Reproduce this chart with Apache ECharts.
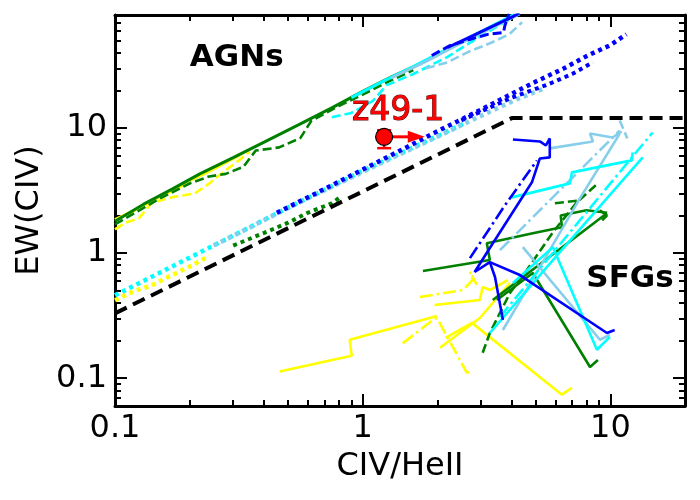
<!DOCTYPE html>
<html>
<head>
<meta charset="utf-8">
<script src="https://cdn.jsdelivr.net/npm/echarts@6/dist/echarts.min.js"></script>
<style>
  html, body { margin: 0; background: #fff; }
  #chart { width: 700px; height: 500px; }
</style>
</head>
<body>
<div id="chart"></div>
<script>
// axis ticks
const xMajor = [0.1, 1, 10];
const xMinor = [0.2, 0.3, 0.4, 0.5, 0.6, 0.7, 0.8, 0.9, 2, 3, 4, 5, 6, 7, 8, 9, 20];
const yMajor = [0.1, 1, 10];
const yMinor = [0.07, 0.08, 0.09, 0.2, 0.3, 0.4, 0.5, 0.6, 0.7, 0.8, 0.9,
  2, 3, 4, 5, 6, 7, 8, 9, 20, 30, 40, 50, 60, 70];

// AGN tracks, upper band
const agnYellowSolid = [[0.1,1.85],[0.12,2.2],[0.15,2.8],[0.18,3.3],[0.2,3.8],[0.24,4.5],[0.28,5.3],[0.32,6.1]];
const agnYellowDashed = [[0.1,1.55],[0.11,1.75],[0.125,1.9],[0.14,2.5],[0.17,2.8],[0.21,3.0],[0.24,3.6],[0.28,4.6],[0.32,5.6],[0.35,6.5]];
const agnGreenSolid = [[0.1,1.8],[0.13,2.45],[0.17,3.25],[0.22,4.3],[0.3,5.8],[0.4,7.7],[0.55,10.6],[0.75,14.5],[1.0,19.6],[1.3,25.5],[1.7,32.5]];
const agnGreenDashed = [[0.1,1.7],[0.15,2.7],[0.2,3.6],[0.24,4.1],[0.28,4.3],[0.33,4.9],[0.37,6.6],[0.46,7.0],[0.56,8.3],[0.62,11.4],[0.8,15],[1.0,18.5],[1.3,24],[1.6,29]];
const agnCyanSolid = [[0.9,17.5],[1.2,23.5],[1.6,31],[2.0,39],[2.6,51],[3.2,63],[4.1,81]];
const agnCyanDashed = [[0.75,12.2],[0.9,13.2],[1.1,16.5],[1.25,22],[1.6,27],[2.2,37],[2.8,50],[3.5,65],[4.3,82]];
const agnSkySolid = [[1.3,25],[1.8,34],[2.4,46],[3.0,57],[3.8,72],[4.3,82]];
const agnSkyDashed = [[1.8,30],[2.2,33.5],[2.7,41],[3.3,48],[3.9,56],[4.4,70]];
const agnBlueSolid = [[2.2,44],[2.8,55],[3.4,66],[4.0,77],[4.3,83]];
const agnBlueDashed = [[1.9,38],[2.25,45.5],[2.7,51],[3.2,56],[3.7,58],[3.75,66],[3.9,82]];

// AGN tracks, lower dotted band
const lowYellow = [[0.1,0.42],[0.12,0.5],[0.14,0.55],[0.16,0.63],[0.2,0.78],[0.24,0.95]];
const lowCyan = [[0.1,0.46],[0.15,0.69],[0.2,0.92],[0.3,1.38],[0.45,2.08],[0.7,3.2],[1.0,4.55],[1.5,6.6],[2.0,8.6],[2.6,11]];
const lowGreen = [[0.3,1.15],[0.4,1.45],[0.5,1.75],[0.6,2.1],[0.75,2.5],[0.82,2.85]];
const lowSky = [[0.25,1.15],[0.35,1.6],[0.5,2.3],[0.8,3.6],[1.2,5.3],[2.0,8.5],[3.0,12.5],[4.2,17],[5.5,21]];
const lowBlue = [[0.45,2.1],[0.7,3.25],[1.0,4.65],[1.5,7.0],[2.0,9.4],[3.0,14],[4.0,18.8],[5.0,23.5],[6.5,30],[8.0,37.5],[10,46],[11.6,56]];
const lowBlue2 = [[2.5,11.5],[4.0,17.5],[5.5,22],[7.0,27],[8.5,33.5]];

// AGN / SFG dividing line
const divider = [[0.1,0.33],[4,12],[20,12]];

// SFG tracks
const sfgBlueSolid = [[4.04,8.1],[5.19,7.81],[5.49,7.25],[5.69,8.25],[5.69,5.82],[5.19,5.71],[4.82,3.68],[3.26,1.1],[2.83,0.706],[3.26,0.848],[4.31,0.668],[9.68,0.23],[10.4,0.243]];
const sfgBlueSolid2 = [[3.26,0.848],[3.42,0.644],[3.68,0.292]];
const sfgBlueDashDot = [[2.71,0.912],[3.75,2.41],[5.05,5.51]];
const sfgSkySolid = [[5.69,6.87],[8.5,7.81],[8.27,9.04],[10.2,8.4],[11.1,9.38]];
const sfgSkySolid2 = [[3.68,0.243],[5.19,0.774],[7.53,2.74],[10.9,9.0]];
const sfgSkySolid3 = [[4.43,1.116],[9.07,0.203],[9.95,0.222]];
const sfgSkyDashDot = [[3.58,1.056],[6.25,3.18],[10.9,9.55]];
const sfgSkyDashed = [[10.9,11.5],[11.7,8.25]];
const sfgCyanSolid = [[4.0,2.79],[6.86,3.61],[6.99,4.42],[12.2,5.51],[12.3,6.38]];
const sfgCyanSolid2 = [[3.26,0.23],[6.25,1.02],[13.5,5.82]];
const sfgCyanSolid3 = [[4.04,0.577],[5.86,1.116],[8.82,0.169],[9.95,0.214]];
const sfgCyanDashDot = [[3.58,0.309],[7.19,1.64],[14.8,9.21]];
const sfgGreenSolid = [[1.75,0.72],[3.26,0.88],[3.17,1.2],[4.86,1.44],[6.37,1.61],[6.3,2.0],[8.0,2.2],[9.7,2.1]];
const sfgGreenSolid2 = [[3.35,0.422],[9.68,2.08]];
const sfgGreenArrow = [[9.07,2.2],[9.68,2.0],[9.25,1.83]];
const sfgGreenSolid3 = [[3.48,0.422],[4.86,0.693],[8.27,0.123],[8.9,0.14]];
const sfgGreenDashed = [[3.05,0.16],[3.26,0.23],[3.93,0.48],[4.6,0.732],[5.86,1.47],[7.32,2.55],[8.9,3.61]];
const sfgGreenDashed2 = [[5.97,2.5],[7.53,2.64]];
const sfgYellowSolid = [[0.462,0.113],[0.903,0.151],[0.886,0.203],[1.865,0.303],[1.99,0.315]];
const sfgYellowSolid2 = [[2.05,0.175],[2.97,0.303],[3.93,0.577]];
const sfgYellowSolid3 = [[2.16,0.21],[2.76,0.277],[6.37,0.0739],[6.99,0.084]];
const sfgYellowSolid4 = [[1.95,0.385],[2.97,0.422],[3.05,0.536],[3.26,0.507],[3.85,0.609]];
const sfgYellowDashDot = [[1.7,0.446],[2.54,0.507],[2.78,0.61],[2.71,0.71],[2.89,0.556]];
const sfgYellowDashDot2 = [[1.45,0.19],[1.95,0.3],[2.0,0.3],[2.63,0.111],[2.78,0.112]];

// the observed source: [x, y, yLow, yHigh, x lower-limit arrow end]
const z49 = [[1.22, 8.5, 6.9, 9.6, 1.78]];

// region labels
const regionLabels = [['AGNs', 0.31, 36.5], ['SFGs', 12, 0.62]];
const z49Label = [['z49-1', 1.39, 13.5]];

const C = { y: '#ffff00', g: '#008000', c: '#00ffff', s: '#87ceeb', b: '#0000ff' };
const DASH = [9, 4];
const DASHDOT = [13, 4, 2.5, 4];
const DOT = [4, 4];

function track(data, color, type, width) {
  return {
    type: 'line', data, symbol: 'none', silent: true,
    lineStyle: { color, width: width || 2.6, type: type || 'solid', cap: 'butt' }
  };
}

const lines = [
  track(lowYellow, C.y, DOT, 4.5), track(lowCyan, C.c, DOT, 4.5), track(lowGreen, C.g, DOT, 4),
  track(lowSky, C.s, DOT, 4.5), track(lowBlue2, C.b, DOT, 4), track(lowBlue, C.b, DOT, 4.5),
  track(agnYellowDashed, C.y, DASH), track(agnYellowSolid, C.y, 'solid', 3),
  track(agnGreenDashed, C.g, DASH), track(agnGreenSolid, C.g, 'solid', 3),
  track(agnCyanDashed, C.c, DASH), track(agnCyanSolid, C.c, 'solid', 3),
  track(agnSkyDashed, C.s, DASH), track(agnSkySolid, C.s, 'solid', 3),
  track(agnBlueSolid, C.b, 'solid', 3), track(agnBlueDashed, C.b, DASH, 3),
  track(sfgYellowSolid, C.y), track(sfgYellowSolid2, C.y), track(sfgYellowSolid3, C.y),
  track(sfgYellowSolid4, C.y), track(sfgYellowDashDot, C.y, DASHDOT), track(sfgYellowDashDot2, C.y, DASHDOT),
  track(sfgGreenSolid, C.g), track(sfgGreenSolid2, C.g), track(sfgGreenArrow, C.g), track(sfgGreenSolid3, C.g),
  track(sfgGreenDashed, C.g, DASH), track(sfgGreenDashed2, C.g, DASH),
  track(sfgSkySolid, C.s), track(sfgSkySolid2, C.s), track(sfgSkySolid3, C.s),
  track(sfgSkyDashDot, C.s, DASHDOT), track(sfgSkyDashed, C.s, DASH),
  track(sfgCyanSolid, C.c), track(sfgCyanSolid2, C.c), track(sfgCyanSolid3, C.c),
  track(sfgCyanDashDot, C.c, DASHDOT),
  track(sfgBlueSolid, C.b), track(sfgBlueSolid2, C.b), track(sfgBlueDashDot, C.b, DASHDOT),
  track(divider, '#000', [13, 7], 4)
];

const FONT = 'DejaVu Sans';
const fmt = v => (v < 1 ? v.toFixed(1) : String(Math.round(v)));

function axisPair(dim, pos, withLabels) {
  const isX = dim === 'x';
  const base = {
    type: 'log', logBase: 10, position: pos,
    min: isX ? 0.1 : 0.06, max: isX ? 20 : 80,
    splitLine: { show: false }
  };
  const major = Object.assign({}, base, {
    axisLine: { show: true, lineStyle: { color: '#000', width: 3 } },
    axisTick: { show: true, inside: true, length: 12, customValues: isX ? xMajor : yMajor,
      lineStyle: { color: '#000', width: 2 } },
    axisLabel: { show: withLabels, customValues: isX ? xMajor : yMajor, formatter: fmt,
      color: '#000', fontFamily: FONT, fontSize: 32, margin: isX ? 7 : 8 }
  });
  if (withLabels) {
    Object.assign(major, {
      name: isX ? 'CIV/HeII' : 'EW(CIV)', nameLocation: 'middle',
      nameGap: isX ? 45 : 68,
      nameTextStyle: { color: '#000', fontFamily: FONT, fontSize: 32 }
    });
  }
  const minor = Object.assign({}, base, {
    axisLine: { show: false },
    axisTick: { show: true, inside: true, length: 6, customValues: isX ? xMinor : yMinor,
      lineStyle: { color: '#000', width: 2 } },
    axisLabel: { show: false }
  });
  return [major, minor];
}

const chart = echarts.init(document.getElementById('chart'));
chart.setOption({
  animation: false,
  backgroundColor: '#fff',
  grid: { left: 115, right: 15, top: 15, bottom: 94, outerBoundsMode: 'none' },
  xAxis: [...axisPair('x', 'bottom', true), ...axisPair('x', 'top', false)],
  yAxis: [...axisPair('y', 'left', true), ...axisPair('y', 'right', false)],
  series: [
    ...lines,
    {
      type: 'custom', silent: true, z: 5,
      renderItem(params, api) {
        const c = api.coord([api.value(0), api.value(1)]);
        const lo = api.coord([api.value(0), api.value(2)]);
        const hi = api.coord([api.value(0), api.value(3)]);
        const tip = api.coord([api.value(4), api.value(1)]);
        const red = { stroke: '#ff0000', lineWidth: 2.5 };
        return {
          type: 'group',
          children: [
            { type: 'line', shape: { x1: c[0], y1: lo[1], x2: c[0], y2: hi[1] }, style: red },
            { type: 'line', shape: { x1: c[0] - 7, y1: lo[1], x2: c[0] + 7, y2: lo[1] }, style: red },
            { type: 'line', shape: { x1: c[0] - 7, y1: hi[1], x2: c[0] + 7, y2: hi[1] }, style: red },
            { type: 'line', shape: { x1: c[0], y1: c[1], x2: tip[0] - 14, y2: c[1] },
              style: { stroke: '#ff0000', lineWidth: 3 } },
            { type: 'polygon', shape: { points: [[tip[0] - 17, c[1] - 6], [tip[0], c[1]], [tip[0] - 17, c[1] + 6]] },
              style: { fill: '#ff0000' } }
          ]
        };
      },
      data: z49
    },
    {
      type: 'scatter', z: 6, silent: true,
      data: z49.map(d => [d[0], d[1]]),
      symbolSize: 17,
      itemStyle: { color: '#ff0000', borderColor: '#000', borderWidth: 1.2, opacity: 1 }
    },
    {
      type: 'scatter', z: 7, silent: true, symbolSize: 0,
      itemStyle: { opacity: 1 },
      data: regionLabels.map(d => ({ value: [d[1], d[2]], name: d[0] })),
      label: { show: true, position: 'inside', formatter: '{b}', color: '#000', opacity: 1,
        fontFamily: FONT, fontSize: 31, fontWeight: 'bold' }
    },
    {
      type: 'scatter', z: 7, silent: true, symbolSize: 0,
      itemStyle: { opacity: 1 },
      data: z49Label.map(d => ({ value: [d[1], d[2]], name: d[0] })),
      label: { show: true, position: 'inside', formatter: '{b}', color: '#ff0000', opacity: 1,
        fontFamily: FONT, fontSize: 33, textBorderColor: '#5a0000', textBorderWidth: 1 }
    }
  ]
});
</script>
</body>
</html>
